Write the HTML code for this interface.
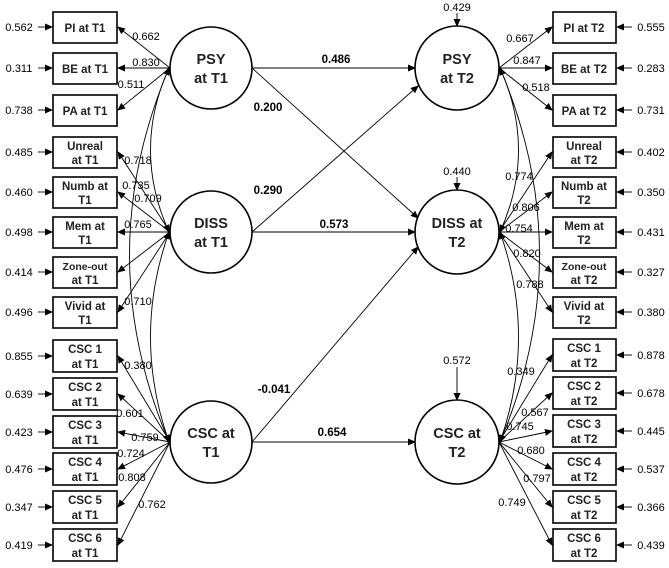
<!DOCTYPE html>
<html><head><meta charset="utf-8"><style>
html,body{margin:0;padding:0;background:#fff;}
svg{display:block;font-family:"Liberation Sans",sans-serif;}
.b{fill:#fff;stroke:#000;stroke-width:1.6}
.l{stroke:#000;stroke-width:0.9;fill:none}
.t{font-size:11px;text-anchor:middle}
.bt{font-size:11.5px;text-anchor:middle;font-weight:bold;fill:#222}
.c{font-size:14.5px;text-anchor:middle;font-weight:bold;fill:#222}
.s{font-size:11.5px;text-anchor:middle;font-weight:bold}
</style></head><body>
<svg width="669" height="568" viewBox="0 0 669 568" xmlns="http://www.w3.org/2000/svg">
<defs><marker id="a" markerWidth="8" markerHeight="8" refX="7" refY="4" orient="auto" markerUnits="userSpaceOnUse"><path d="M0,0.5 L8,4 L0,7.5z" fill="#000"/></marker>
<marker id="s" markerWidth="8" markerHeight="8" refX="1" refY="4" orient="auto" markerUnits="userSpaceOnUse"><path d="M8,0.5 L0,4 L8,7.5z" fill="#000"/></marker></defs>

<!-- correlation curves left -->
<path class="l" d="M169,68 Q132,150 169,232" marker-start="url(#s)" marker-end="url(#a)"/>
<path class="l" d="M169,68 Q90,255 169,442" marker-start="url(#s)" marker-end="url(#a)"/>
<path class="l" d="M169,232 Q132,337 169,442" marker-start="url(#s)" marker-end="url(#a)"/>
<!-- right curves -->
<path class="l" d="M500,68 Q537,150 500,232" marker-start="url(#s)" marker-end="url(#a)"/>
<path class="l" d="M500,68 Q579,255 500,442" marker-start="url(#s)" marker-end="url(#a)"/>
<path class="l" d="M500,232 Q537,337 500,442" marker-start="url(#s)" marker-end="url(#a)"/>

<!-- left loadings -->
<g class="l" marker-end="url(#a)">
<line x1="170" y1="68" x2="118" y2="27"/><line x1="170" y1="68" x2="118" y2="68"/><line x1="170" y1="68" x2="118" y2="110"/>
<line x1="170" y1="232" x2="118" y2="152"/><line x1="170" y1="232" x2="118" y2="192"/><line x1="170" y1="232" x2="118" y2="232"/><line x1="170" y1="232" x2="118" y2="272"/><line x1="170" y1="232" x2="118" y2="312"/>
<line x1="170" y1="442" x2="118" y2="356"/><line x1="170" y1="442" x2="118" y2="394"/><line x1="170" y1="442" x2="118" y2="432"/><line x1="170" y1="442" x2="118" y2="469"/><line x1="170" y1="442" x2="118" y2="507"/><line x1="170" y1="442" x2="118" y2="545"/>
<!-- right loadings -->
<line x1="499" y1="68" x2="552" y2="27"/><line x1="499" y1="68" x2="552" y2="68"/><line x1="499" y1="68" x2="552" y2="110"/>
<line x1="499" y1="232" x2="552" y2="152"/><line x1="499" y1="232" x2="552" y2="192"/><line x1="499" y1="232" x2="552" y2="232"/><line x1="499" y1="232" x2="552" y2="272"/><line x1="499" y1="232" x2="552" y2="312"/>
<line x1="499" y1="442" x2="552" y2="355"/><line x1="499" y1="442" x2="552" y2="393"/><line x1="499" y1="442" x2="552" y2="431"/><line x1="499" y1="442" x2="552" y2="469"/><line x1="499" y1="442" x2="552" y2="507"/><line x1="499" y1="442" x2="552" y2="545"/>
<!-- structural -->
<line x1="252" y1="68" x2="415" y2="68"/><line x1="252" y1="68" x2="418" y2="218"/><line x1="252" y1="232" x2="418" y2="86"/><line x1="252" y1="232" x2="415" y2="232"/><line x1="252" y1="442" x2="418" y2="247"/><line x1="252" y1="442" x2="415" y2="442"/>
<!-- disturbances -->
<line x1="457" y1="13" x2="457" y2="26"/><line x1="457" y1="177" x2="457" y2="190"/><line x1="457" y1="367" x2="457" y2="400"/>
<!-- residual arrows left -->
<line x1="38" y1="27" x2="52" y2="27"/><line x1="38" y1="68" x2="52" y2="68"/><line x1="38" y1="110" x2="52" y2="110"/><line x1="38" y1="152" x2="52" y2="152"/><line x1="38" y1="192" x2="52" y2="192"/><line x1="38" y1="232" x2="52" y2="232"/><line x1="38" y1="272" x2="52" y2="272"/><line x1="38" y1="312" x2="52" y2="312"/><line x1="38" y1="356" x2="52" y2="356"/><line x1="38" y1="394" x2="52" y2="394"/><line x1="38" y1="432" x2="52" y2="432"/><line x1="38" y1="469" x2="52" y2="469"/><line x1="38" y1="507" x2="52" y2="507"/><line x1="38" y1="545" x2="52" y2="545"/>
<line x1="632" y1="27" x2="617" y2="27"/><line x1="632" y1="68" x2="617" y2="68"/><line x1="632" y1="110" x2="617" y2="110"/><line x1="632" y1="152" x2="617" y2="152"/><line x1="632" y1="192" x2="617" y2="192"/><line x1="632" y1="232" x2="617" y2="232"/><line x1="632" y1="272" x2="617" y2="272"/><line x1="632" y1="312" x2="617" y2="312"/><line x1="632" y1="355" x2="617" y2="355"/><line x1="632" y1="393" x2="617" y2="393"/><line x1="632" y1="431" x2="617" y2="431"/><line x1="632" y1="469" x2="617" y2="469"/><line x1="632" y1="507" x2="617" y2="507"/><line x1="632" y1="545" x2="617" y2="545"/>
</g>

<!-- circles -->
<circle class="b" cx="211" cy="68" r="41"/><circle class="b" cx="211" cy="232" r="41"/><circle class="b" cx="211" cy="442" r="41"/>
<circle class="b" cx="457" cy="68" r="42"/><circle class="b" cx="457" cy="232" r="42"/><circle class="b" cx="457" cy="442" r="42"/>
<text class="c" x="211" y="64">PSY</text><text class="c" x="211" y="83">at T1</text>
<text class="c" x="211" y="228">DISS</text><text class="c" x="211" y="247">at T1</text>
<text class="c" x="211" y="438">CSC at</text><text class="c" x="211" y="457">T1</text>
<text class="c" x="457" y="64">PSY</text><text class="c" x="457" y="83">at T2</text>
<text class="c" x="457" y="228">DISS at</text><text class="c" x="457" y="247">T2</text>
<text class="c" x="457" y="438">CSC at</text><text class="c" x="457" y="457">T2</text>

<!-- boxes -->
<g class="b">
<rect x="53" y="12" width="64" height="31"/><rect x="53" y="53" width="64" height="31"/><rect x="53" y="95" width="64" height="31"/><rect x="53" y="137" width="64" height="31"/><rect x="53" y="177" width="64" height="31"/><rect x="53" y="217" width="64" height="31"/><rect x="53" y="257" width="64" height="31"/><rect x="53" y="297" width="64" height="31"/><rect x="53" y="340" width="64" height="32"/><rect x="53" y="378" width="64" height="32"/><rect x="53" y="416" width="64" height="32"/><rect x="53" y="453" width="64" height="32"/><rect x="53" y="491" width="64" height="32"/><rect x="53" y="529" width="64" height="32"/>
<rect x="553" y="12" width="63" height="31"/><rect x="553" y="53" width="63" height="31"/><rect x="553" y="95" width="63" height="31"/><rect x="553" y="137" width="63" height="31"/><rect x="553" y="177" width="63" height="31"/><rect x="553" y="217" width="63" height="31"/><rect x="553" y="257" width="63" height="31"/><rect x="553" y="297" width="63" height="31"/><rect x="553" y="339" width="63" height="32"/><rect x="553" y="377" width="63" height="32"/><rect x="553" y="415" width="63" height="32"/><rect x="553" y="453" width="63" height="32"/><rect x="553" y="491" width="63" height="32"/><rect x="553" y="529" width="63" height="32"/>
</g>
<g class="bt">
<text x="85" y="32">PI at T1</text><text x="85" y="73">BE at T1</text><text x="85" y="115">PA at T1</text>
<text x="85" y="150">Unreal</text><text x="85" y="164">at T1</text>
<text x="85" y="190">Numb at</text><text x="85" y="204">T1</text>
<text x="85" y="230">Mem at</text><text x="85" y="244">T1</text>
<text x="85" y="270" style="font-size:10.5px">Zone-out</text><text x="85" y="284">at T1</text>
<text x="85" y="310">Vivid at</text><text x="85" y="324">T1</text>
<text x="85" y="353">CSC 1</text><text x="85" y="368">at T1</text>
<text x="85" y="391">CSC 2</text><text x="85" y="406">at T1</text>
<text x="85" y="429">CSC 3</text><text x="85" y="444">at T1</text>
<text x="85" y="466">CSC 4</text><text x="85" y="481">at T1</text>
<text x="85" y="504">CSC 5</text><text x="85" y="519">at T1</text>
<text x="85" y="542">CSC 6</text><text x="85" y="557">at T1</text>
<text x="584" y="32">PI at T2</text><text x="584" y="73">BE at T2</text><text x="584" y="115">PA at T2</text>
<text x="584" y="150">Unreal</text><text x="584" y="164">at T2</text>
<text x="584" y="190">Numb at</text><text x="584" y="204">T2</text>
<text x="584" y="230">Mem at</text><text x="584" y="244">T2</text>
<text x="584" y="270" style="font-size:10.5px">Zone-out</text><text x="584" y="284">at T2</text>
<text x="584" y="310">Vivid at</text><text x="584" y="324">T2</text>
<text x="584" y="352">CSC 1</text><text x="584" y="367">at T2</text>
<text x="584" y="390">CSC 2</text><text x="584" y="405">at T2</text>
<text x="584" y="428">CSC 3</text><text x="584" y="443">at T2</text>
<text x="584" y="466">CSC 4</text><text x="584" y="481">at T2</text>
<text x="584" y="504">CSC 5</text><text x="584" y="519">at T2</text>
<text x="584" y="542">CSC 6</text><text x="584" y="557">at T2</text>
</g>

<g class="t">
<text x="19" y="31">0.562</text><text x="19" y="72">0.311</text><text x="19" y="114">0.738</text><text x="19" y="156">0.485</text><text x="19" y="196">0.460</text><text x="19" y="236">0.498</text><text x="19" y="276">0.414</text><text x="19" y="316">0.496</text><text x="19" y="360">0.855</text><text x="19" y="398">0.639</text><text x="19" y="436">0.423</text><text x="19" y="473">0.476</text><text x="19" y="511">0.347</text><text x="19" y="549">0.419</text>
<text x="651" y="31">0.555</text><text x="651" y="72">0.283</text><text x="651" y="114">0.731</text><text x="651" y="156">0.402</text><text x="651" y="196">0.350</text><text x="651" y="236">0.431</text><text x="651" y="276">0.327</text><text x="651" y="316">0.380</text><text x="651" y="359">0.878</text><text x="651" y="397">0.678</text><text x="651" y="435">0.445</text><text x="651" y="473">0.537</text><text x="651" y="511">0.366</text><text x="651" y="549">0.439</text>
<text x="146" y="40">0.662</text><text x="146" y="66">0.830</text><text x="131" y="88">0.511</text>
<text x="138" y="164">0.718</text><text x="136" y="189">0.735</text><text x="148" y="202">0.709</text><text x="138" y="228">0.765</text><text x="138" y="305">0.710</text>
<text x="138" y="369">0.380</text><text x="130" y="417">0.601</text><text x="145" y="441">0.759</text><text x="131" y="457">0.724</text><text x="132" y="481">0.808</text><text x="152" y="508">0.762</text>
<text x="520" y="42">0.667</text><text x="527" y="64">0.847</text><text x="536" y="91">0.518</text>
<text x="519" y="180">0.774</text><text x="526" y="211">0.806</text><text x="519" y="232">0.754</text><text x="527" y="257">0.820</text><text x="530" y="288">0.788</text>
<text x="521" y="375">0.349</text><text x="535" y="416">0.567</text><text x="520" y="430">0.745</text><text x="531" y="454">0.680</text><text x="537" y="482">0.797</text><text x="512" y="506">0.749</text>
<text x="457" y="11">0.429</text><text x="457" y="175">0.440</text><text x="457" y="364">0.572</text>
</g>
<g class="s">
<text x="336" y="63">0.486</text><text x="268" y="111">0.200</text><text x="268" y="194">0.290</text><text x="334" y="228">0.573</text><text x="274" y="393">-0.041</text><text x="332" y="436">0.654</text>
</g>
</svg>
</body></html>
